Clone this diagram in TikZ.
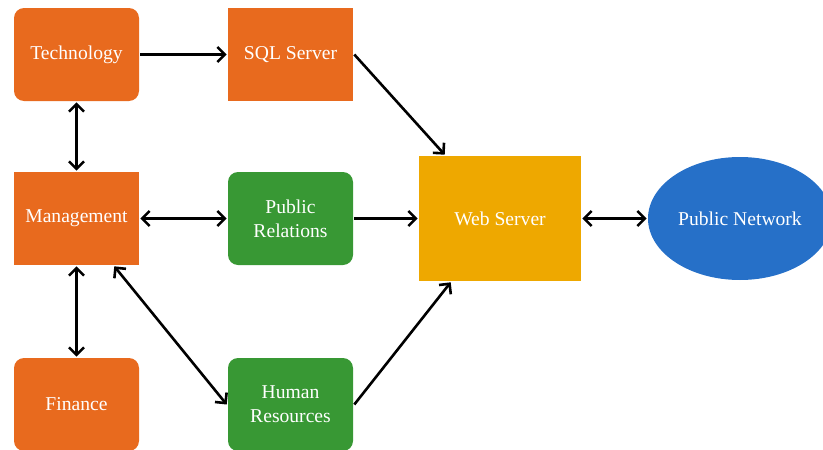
\documentclass[tikz,border=0pt]{standalone}
\usepackage{fontspec}
\setmainfont{Liberation Serif}
\usetikzlibrary{arrows.meta,shapes.geometric}
\definecolor{deptorange}{HTML}{E86A1E}
\definecolor{deptgreen}{HTML}{389834}
\definecolor{servgold}{HTML}{EEA800}
\definecolor{netblue}{HTML}{2670C8}

\begin{document}
\begin{tikzpicture}[
  x=1pt, y=-1pt,
  every node/.style={
    text=white,
    inner sep=0pt,
    align=center,
    font=\fontsize{19.6}{24}\selectfont,
  },
  box/.style={minimum width=125pt, minimum height=93pt},
  dept/.style={box, fill=deptorange, rounded corners=10pt},
  unit/.style={box, fill=deptorange},
  team/.style={box, fill=deptgreen, rounded corners=10pt},
  every path/.style={line width=2.6pt, >={Straight Barb[length=7.5pt,width=15pt]}},
  ]
  \useasboundingbox (0,0) rectangle (823,450);
  \node[dept] (tech) at (76.5,54.5) {Technology};
  \node[unit] (sql) at (290.5,54.5) {SQL Server};
  \node[unit] (mgmt) at (76.5,218.5) {Management};
  \node[team] (pr) at (290.5,218.5) {Public\\Relations};
  \node[dept] (fin) at (76.5,404.5) {Finance};
  \node[team] (hr) at (290.5,404.5) {Human\\Resources};
  \node[fill=servgold, minimum width=162pt, minimum height=125pt] (web) at (500,218.5) {Web Server};
  \node[ellipse, fill=netblue, minimum width=184pt, minimum height=123pt] (net) at (740,218.5) {Public Network};

  \draw[->] (tech) -- (sql);
  \draw[<->] (tech) -- (mgmt);
  \draw[<->] (mgmt) -- (fin);
  \draw[<->] (mgmt) -- (pr);
  \draw[<->] ([xshift=-26pt]mgmt.south east) -- (hr.west);
  \draw[->] (sql.east) -- ([xshift=27pt]web.north west);
  \draw[->] (pr) -- (web);
  \draw[->] (hr.east) -- ([xshift=33pt]web.south west);
  \draw[<->] (web) -- (net);
\end{tikzpicture}
\end{document}
